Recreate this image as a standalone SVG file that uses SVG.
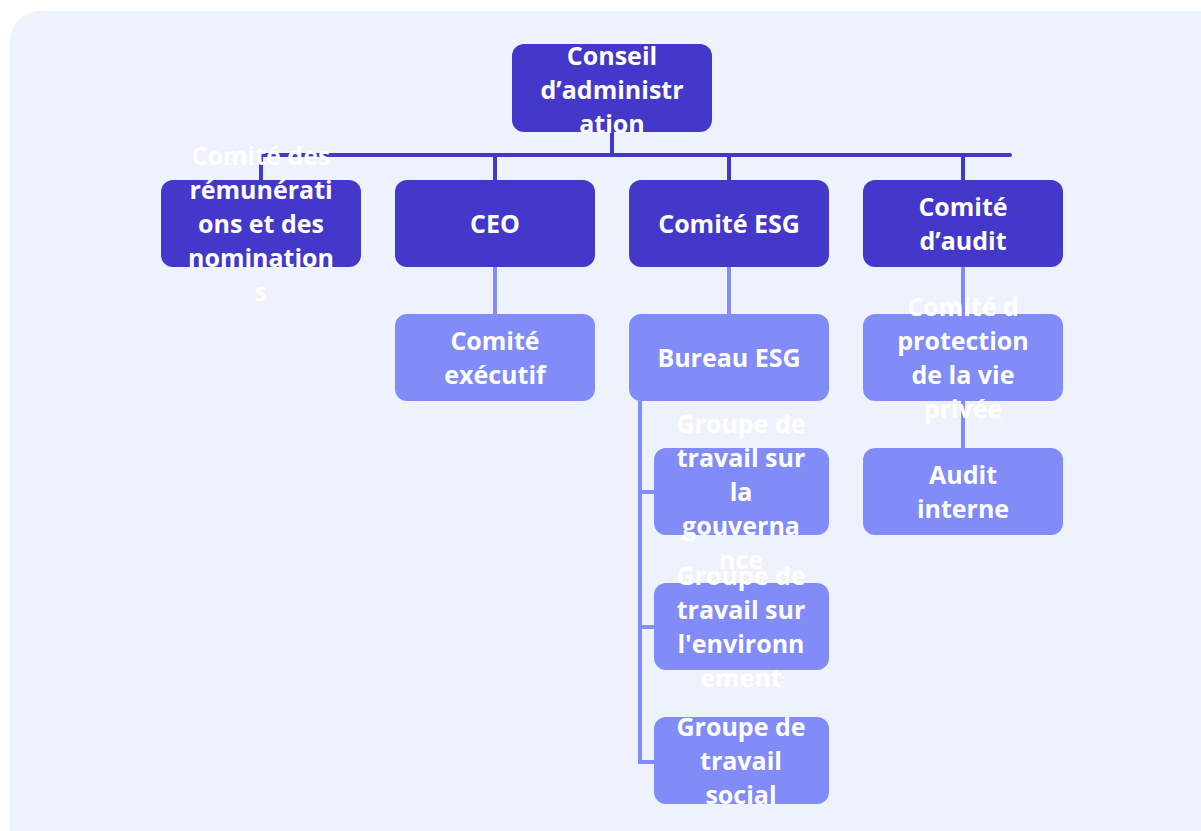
<svg xmlns="http://www.w3.org/2000/svg" width="1201" height="831" viewBox="0 0 1201 831">
  <style>
    .panel { fill: #EEF2FD; }
    .dark { fill: #4338CA; }
    .light { fill: #818CF8; }
    .lbl { fill: #FFFFFF; font-family: "Open Sans", "Liberation Sans", sans-serif; font-weight: 700; font-size: 25px; text-anchor: middle; }
    .lnk-dark { stroke: #4338CA; stroke-width: 4; fill: none; stroke-linecap: round; }
    .lnk-light { stroke: #818CF8; stroke-width: 4; fill: none; }
  </style>
  <rect x="0" y="0" width="1201" height="831" fill="#FFFFFF"/>
  <rect class="panel" x="10" y="11" width="1230" height="860" rx="30"/>

  <!-- connectors -->
  <g id="connectors">
    <path class="lnk-dark" d="M612 132 V155 M261 155 H1010 M261 155 V180 M495 155 V180 M729 155 V180 M963 155 V180"/>
    <path class="lnk-light" d="M495 267 V314 M729 267 V314 M963 267 V314 M963 401 V448"/>
    <path class="lnk-light" d="M640 401 V762 M638 492 H654 M638 627 H654 M638 762 H654"/>
  </g>

  <!-- board -->
  <g id="conseil">
    <rect class="dark" x="512" y="44" width="200" height="88" rx="12"/>
    <text class="lbl" x="612"><tspan x="612" y="65">Conseil</tspan><tspan x="612" y="99">d’administr</tspan><tspan x="612" y="133">ation</tspan></text>
  </g>

  <!-- committees under the board -->
  <g id="remunerations">
    <rect class="dark" x="161" y="180" width="200" height="87" rx="12"/>
    <text class="lbl"><tspan x="261" y="165">Comité des</tspan><tspan x="261" y="199">rémunérati</tspan><tspan x="261" y="233">ons et des</tspan><tspan x="261" y="267">nomination</tspan><tspan x="261" y="301">s</tspan></text>
  </g>
  <g id="ceo">
    <rect class="dark" x="395" y="180" width="200" height="87" rx="12"/>
    <text class="lbl"><tspan x="495" y="233">CEO</tspan></text>
  </g>
  <g id="comite-esg">
    <rect class="dark" x="629" y="180" width="200" height="87" rx="12"/>
    <text class="lbl"><tspan x="729" y="233">Comité ESG</tspan></text>
  </g>
  <g id="comite-audit">
    <rect class="dark" x="863" y="180" width="200" height="87" rx="12"/>
    <text class="lbl"><tspan x="963" y="216">Comité</tspan><tspan x="963" y="250">d’audit</tspan></text>
  </g>

  <!-- second level -->
  <g id="comite-executif">
    <rect class="light" x="395" y="314" width="200" height="87" rx="12"/>
    <text class="lbl"><tspan x="495" y="350">Comité</tspan><tspan x="495" y="384">exécutif</tspan></text>
  </g>
  <g id="bureau-esg">
    <rect class="light" x="629" y="314" width="200" height="87" rx="12"/>
    <text class="lbl"><tspan x="729" y="367">Bureau ESG</tspan></text>
  </g>
  <g id="vie-privee">
    <rect class="light" x="863" y="314" width="200" height="87" rx="12"/>
    <text class="lbl"><tspan x="963" y="316">Comité d</tspan><tspan x="963" y="350">protection</tspan><tspan x="963" y="384">de la vie</tspan><tspan x="963" y="418">privée</tspan></text>
  </g>

  <!-- working groups and internal audit -->
  <g id="gt-gouvernance">
    <rect class="light" x="654" y="448" width="175" height="87" rx="12"/>
    <text class="lbl"><tspan x="741" y="433">Groupe de</tspan><tspan x="741" y="467">travail sur</tspan><tspan x="741" y="501">la</tspan><tspan x="741" y="535">gouverna</tspan><tspan x="741" y="569">nce</tspan></text>
  </g>
  <g id="gt-environnement">
    <rect class="light" x="654" y="583" width="175" height="87" rx="12"/>
    <text class="lbl"><tspan x="741" y="585">Groupe de</tspan><tspan x="741" y="619">travail sur</tspan><tspan x="741" y="653">l'environn</tspan><tspan x="741" y="687">ement</tspan></text>
  </g>
  <g id="gt-social">
    <rect class="light" x="654" y="717" width="175" height="87" rx="12"/>
    <text class="lbl"><tspan x="741" y="736">Groupe de</tspan><tspan x="741" y="770">travail</tspan><tspan x="741" y="804">social</tspan></text>
  </g>
  <g id="audit-interne">
    <rect class="light" x="863" y="448" width="200" height="87" rx="12"/>
    <text class="lbl"><tspan x="963" y="484">Audit</tspan><tspan x="963" y="518">interne</tspan></text>
  </g>
</svg>
